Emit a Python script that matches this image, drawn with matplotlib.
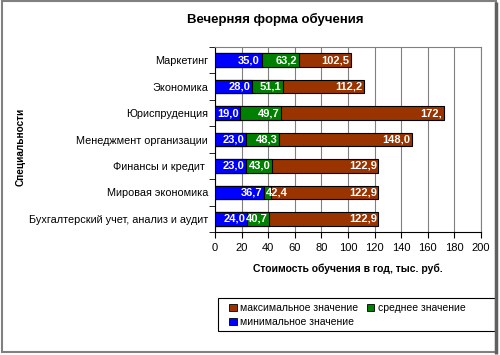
"""Evening education cost by specialty: min / mean / max overlapping bars."""

import matplotlib.pyplot as plt
from matplotlib.patches import Rectangle

plt.rcParams["font.family"] = ["Liberation Sans", "DejaVu Sans"]

specialties = [
    "Маркетинг",
    "Экономика",
    "Юриспруденция",
    "Менеджмент организации",
    "Финансы и кредит ",
    "Мировая экономика",
    "Бухгалтерский учет, анализ и аудит",
]
min_values = [35.0, 28.0, 19.0, 23.0, 23.0, 36.7, 24.0]
mean_values = [63.2, 51.1, 49.7, 48.3, 43.0, 42.4, 40.7]
max_values = [102.5, 112.2, 172.0, 148.0, 122.9, 122.9, 122.9]
max_labels = ["102,5", "112,2", "172,", "148,0", "122,9", "122,9", "122,9"]
x_ticks = [0, 20, 40, 60, 80, 100, 120, 140, 160, 180, 200]


def fmt(value):
    return f"{value:.1f}".replace(".", ",")


def main():
    figure = plt.figure(figsize=(5.0, 3.55), dpi=100)
    axes = figure.add_axes([0.43, 0.346, 0.532, 0.522])

    positions = list(range(len(specialties)))[::-1]
    height = 0.5

    bars_max = axes.barh(positions, max_values, height=height, color="#993300",
                         edgecolor="black", linewidth=0.8, zorder=3)
    bars_mean = axes.barh(positions, mean_values, height=height, color="#008000",
                          edgecolor="black", linewidth=0.8, zorder=4)
    bars_min = axes.barh(positions, min_values, height=height, color="#0000FF",
                         edgecolor="black", linewidth=0.8, zorder=5)

    # labels sit right-aligned at the bar end; if one would run into the
    # previous label, it is pushed to start just after the previous bar
    char_width = 4.0
    for pos, lo, mid, hi, hi_text in zip(positions, min_values, mean_values,
                                         max_values, max_labels):
        prev_end = 0.0
        prev_value = 0.0
        for value, text in ((lo, fmt(lo)), (mid, fmt(mid)), (hi, hi_text)):
            right = value - 1.2
            if right - len(text) * char_width < prev_end:
                x, ha = prev_value + 1.5, "left"
                prev_end = x + len(text) * char_width
            else:
                x, ha = right, "right"
                prev_end = right
            prev_value = value
            axes.text(x, pos, text, ha=ha, va="center", color="white",
                      fontsize=8, fontweight="bold", zorder=6)

    axes.set_xlim(0, 200)
    axes.set_ylim(-0.5, len(specialties) - 0.5)
    axes.set_xticks(x_ticks)
    axes.set_xticklabels([str(t) for t in x_ticks])
    axes.set_yticks(positions)
    axes.set_yticklabels(specialties)
    axes.set_yticks([p - 0.5 for p in range(len(specialties) + 1)], minor=True)
    axes.tick_params(axis="y", which="major", length=0, labelsize=7.8, pad=5)
    axes.tick_params(axis="y", which="minor", length=4, direction="out")
    axes.tick_params(axis="x", length=4, labelsize=8, pad=4)

    axes.grid(axis="x", color="#808080", linewidth=0.8, zorder=0)
    axes.spines["top"].set_color("#808080")
    axes.spines["right"].set_color("#808080")
    axes.spines["left"].set_color("black")
    axes.spines["bottom"].set_color("black")

    axes.set_xlabel("Стоимость обучения в год, тыс. руб.", fontsize=7.5,
                    fontweight="bold", labelpad=7)
    figure.text(0.042, 0.586, "Специальности", rotation=90, fontsize=7.2,
                fontweight="bold", ha="center", va="center")
    figure.text(0.55, 0.945, "Вечерняя форма обучения", fontsize=9.5,
                fontweight="bold", ha="center", va="center")

    legend = figure.legend(
        [bars_max, bars_min, bars_mean],
        ["максимальное значение", "минимальное значение", "среднее значение"],
        ncol=2, loc="upper left", bbox_to_anchor=(0.448, 0.16),
        fontsize=7.5, frameon=False, handlelength=0.7, handleheight=0.7,
        handletextpad=0.3, columnspacing=0.9, borderpad=0.0,
        labelspacing=0.35,
    )
    for handle in legend.legend_handles:
        handle.set_edgecolor("black")
        handle.set_linewidth(0.6)

    figure.patches.append(Rectangle((0.436, 0.0676), 0.554, 0.093,
                                    transform=figure.transFigure, fill=False,
                                    edgecolor="black", linewidth=0.8))
    figure.patches.append(Rectangle((0.003, 0.008), 0.988, 0.988,
                                    transform=figure.transFigure, fill=False,
                                    edgecolor="#808080", linewidth=1.5))
    figure.patches.append(Rectangle((0.991, 0.004), 0.0, 0.99,
                                    transform=figure.transFigure, fill=False,
                                    edgecolor="#606060", linewidth=2.5))

    figure.savefig("out.png", dpi=100)


if __name__ == "__main__":
    main()
